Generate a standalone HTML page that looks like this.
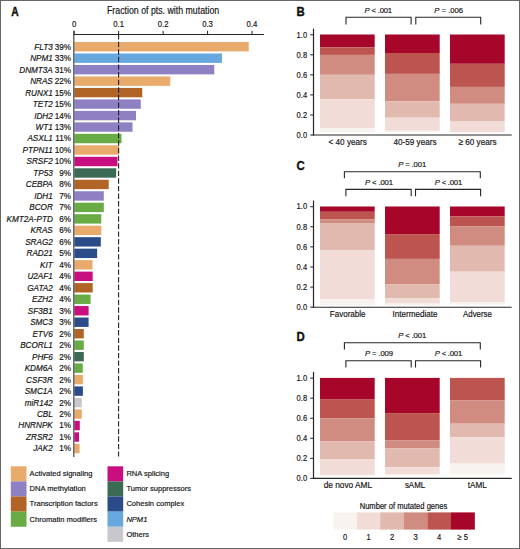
<!DOCTYPE html><html><head><meta charset="utf-8"><style>html,body{margin:0;padding:0;background:#fff;}svg{display:block;}text{font-family:"Liberation Sans",sans-serif;fill:#141414;stroke:#141414;stroke-width:0.18px;}</style></head><body>
<svg width="520" height="549" viewBox="0 0 520 549">
<rect x="0" y="0" width="520" height="549" fill="#fff"/>
<text x="11.30" y="15.80" font-size="12.00" textLength="7.45" lengthAdjust="spacingAndGlyphs" font-weight="bold" style="stroke:#000;stroke-width:0.35px" fill="#000">A</text>
<text x="107.00" y="14.40" font-size="10.60" textLength="112.20" lengthAdjust="spacingAndGlyphs">Fraction of pts. with mutation</text>
<text x="74.20" y="26.60" font-size="9.00" text-anchor="middle" textLength="4.30" lengthAdjust="spacingAndGlyphs">0</text>
<line x1="74.20" y1="30.8" x2="74.20" y2="34.5" stroke="#262626" stroke-width="1"/>
<text x="118.65" y="26.60" font-size="9.00" text-anchor="middle" textLength="10.76" lengthAdjust="spacingAndGlyphs">0.1</text>
<line x1="118.65" y1="30.8" x2="118.65" y2="34.5" stroke="#262626" stroke-width="1"/>
<text x="163.10" y="26.60" font-size="9.00" text-anchor="middle" textLength="10.76" lengthAdjust="spacingAndGlyphs">0.2</text>
<line x1="163.10" y1="30.8" x2="163.10" y2="34.5" stroke="#262626" stroke-width="1"/>
<text x="207.55" y="26.60" font-size="9.00" text-anchor="middle" textLength="10.76" lengthAdjust="spacingAndGlyphs">0.3</text>
<line x1="207.55" y1="30.8" x2="207.55" y2="34.5" stroke="#262626" stroke-width="1"/>
<text x="252.00" y="26.60" font-size="9.00" text-anchor="middle" textLength="10.76" lengthAdjust="spacingAndGlyphs">0.4</text>
<line x1="252.00" y1="30.8" x2="252.00" y2="34.5" stroke="#262626" stroke-width="1"/>
<rect x="74.3" y="42.00" width="174.45" height="9.40" fill="#E9AB6C"/>
<text x="52.80" y="49.65" font-size="8.50" text-anchor="end" textLength="18.44" lengthAdjust="spacingAndGlyphs" font-style="italic">FLT3</text>
<text x="71.00" y="49.65" font-size="8.50" text-anchor="end" textLength="16.33" lengthAdjust="spacingAndGlyphs">39%</text>
<rect x="74.3" y="53.48" width="147.70" height="9.40" fill="#67A9DF"/>
<text x="52.80" y="61.13" font-size="8.50" text-anchor="end" textLength="22.67" lengthAdjust="spacingAndGlyphs" font-style="italic">NPM1</text>
<text x="71.00" y="61.13" font-size="8.50" text-anchor="end" textLength="16.33" lengthAdjust="spacingAndGlyphs">33%</text>
<rect x="74.3" y="64.96" width="139.95" height="9.40" fill="#8F80C3"/>
<text x="52.80" y="72.61" font-size="8.50" text-anchor="end" textLength="33.55" lengthAdjust="spacingAndGlyphs" font-style="italic">DNMT3A</text>
<text x="71.00" y="72.61" font-size="8.50" text-anchor="end" textLength="16.33" lengthAdjust="spacingAndGlyphs">31%</text>
<rect x="74.3" y="76.44" width="95.95" height="9.40" fill="#E9AB6C"/>
<text x="52.80" y="84.09" font-size="8.50" text-anchor="end" textLength="22.67" lengthAdjust="spacingAndGlyphs" font-style="italic">NRAS</text>
<text x="71.00" y="84.09" font-size="8.50" text-anchor="end" textLength="16.33" lengthAdjust="spacingAndGlyphs">22%</text>
<rect x="74.3" y="87.92" width="67.95" height="9.40" fill="#B06527"/>
<text x="52.80" y="95.57" font-size="8.50" text-anchor="end" textLength="27.66" lengthAdjust="spacingAndGlyphs" font-style="italic">RUNX1</text>
<text x="71.00" y="95.57" font-size="8.50" text-anchor="end" textLength="16.33" lengthAdjust="spacingAndGlyphs">15%</text>
<rect x="74.3" y="99.40" width="66.45" height="9.40" fill="#8F80C3"/>
<text x="52.80" y="107.05" font-size="8.50" text-anchor="end" textLength="19.95" lengthAdjust="spacingAndGlyphs" font-style="italic">TET2</text>
<text x="71.00" y="107.05" font-size="8.50" text-anchor="end" textLength="16.33" lengthAdjust="spacingAndGlyphs">15%</text>
<rect x="74.3" y="110.88" width="61.70" height="9.40" fill="#8F80C3"/>
<text x="52.80" y="118.53" font-size="8.50" text-anchor="end" textLength="18.59" lengthAdjust="spacingAndGlyphs" font-style="italic">IDH2</text>
<text x="71.00" y="118.53" font-size="8.50" text-anchor="end" textLength="16.33" lengthAdjust="spacingAndGlyphs">14%</text>
<rect x="74.3" y="122.36" width="58.20" height="9.40" fill="#8F80C3"/>
<text x="52.80" y="130.01" font-size="8.50" text-anchor="end" textLength="17.22" lengthAdjust="spacingAndGlyphs" font-style="italic">WT1</text>
<text x="71.00" y="130.01" font-size="8.50" text-anchor="end" textLength="16.33" lengthAdjust="spacingAndGlyphs">13%</text>
<rect x="74.3" y="133.84" width="47.20" height="9.40" fill="#69AC45"/>
<text x="52.80" y="141.49" font-size="8.50" text-anchor="end" textLength="25.41" lengthAdjust="spacingAndGlyphs" font-style="italic">ASXL1</text>
<text x="71.00" y="141.49" font-size="8.50" text-anchor="end" textLength="15.73" lengthAdjust="spacingAndGlyphs">11%</text>
<rect x="74.3" y="145.32" width="44.90" height="9.40" fill="#E9AB6C"/>
<text x="52.80" y="152.97" font-size="8.50" text-anchor="end" textLength="30.23" lengthAdjust="spacingAndGlyphs" font-style="italic">PTPN11</text>
<text x="71.00" y="152.97" font-size="8.50" text-anchor="end" textLength="16.33" lengthAdjust="spacingAndGlyphs">10%</text>
<rect x="74.3" y="156.80" width="43.20" height="9.40" fill="#C90F7F"/>
<text x="52.80" y="164.45" font-size="8.50" text-anchor="end" textLength="26.30" lengthAdjust="spacingAndGlyphs" font-style="italic">SRSF2</text>
<text x="71.00" y="164.45" font-size="8.50" text-anchor="end" textLength="16.33" lengthAdjust="spacingAndGlyphs">10%</text>
<rect x="74.3" y="168.28" width="41.90" height="9.40" fill="#3B6A55"/>
<text x="52.80" y="175.93" font-size="8.50" text-anchor="end" textLength="19.50" lengthAdjust="spacingAndGlyphs" font-style="italic">TP53</text>
<text x="71.00" y="175.93" font-size="8.50" text-anchor="end" textLength="11.79" lengthAdjust="spacingAndGlyphs">9%</text>
<rect x="74.3" y="179.76" width="34.40" height="9.40" fill="#B06527"/>
<text x="52.80" y="187.41" font-size="8.50" text-anchor="end" textLength="27.06" lengthAdjust="spacingAndGlyphs" font-style="italic">CEBPA</text>
<text x="71.00" y="187.41" font-size="8.50" text-anchor="end" textLength="11.79" lengthAdjust="spacingAndGlyphs">8%</text>
<rect x="74.3" y="191.24" width="29.50" height="9.40" fill="#8F80C3"/>
<text x="52.80" y="198.89" font-size="8.50" text-anchor="end" textLength="18.59" lengthAdjust="spacingAndGlyphs" font-style="italic">IDH1</text>
<text x="71.00" y="198.89" font-size="8.50" text-anchor="end" textLength="11.79" lengthAdjust="spacingAndGlyphs">7%</text>
<rect x="74.3" y="202.72" width="29.50" height="9.40" fill="#69AC45"/>
<text x="52.80" y="210.37" font-size="8.50" text-anchor="end" textLength="23.58" lengthAdjust="spacingAndGlyphs" font-style="italic">BCOR</text>
<text x="71.00" y="210.37" font-size="8.50" text-anchor="end" textLength="11.79" lengthAdjust="spacingAndGlyphs">7%</text>
<rect x="74.3" y="214.20" width="27.00" height="9.40" fill="#69AC45"/>
<text x="52.80" y="221.85" font-size="8.50" text-anchor="end" textLength="46.24" lengthAdjust="spacingAndGlyphs" font-style="italic">KMT2A-PTD</text>
<text x="71.00" y="221.85" font-size="8.50" text-anchor="end" textLength="11.79" lengthAdjust="spacingAndGlyphs">6%</text>
<rect x="74.3" y="225.68" width="27.00" height="9.40" fill="#E9AB6C"/>
<text x="52.80" y="233.33" font-size="8.50" text-anchor="end" textLength="22.22" lengthAdjust="spacingAndGlyphs" font-style="italic">KRAS</text>
<text x="71.00" y="233.33" font-size="8.50" text-anchor="end" textLength="11.79" lengthAdjust="spacingAndGlyphs">6%</text>
<rect x="74.3" y="237.16" width="26.50" height="9.40" fill="#2C4B8A"/>
<text x="52.80" y="244.81" font-size="8.50" text-anchor="end" textLength="27.66" lengthAdjust="spacingAndGlyphs" font-style="italic">SRAG2</text>
<text x="71.00" y="244.81" font-size="8.50" text-anchor="end" textLength="11.79" lengthAdjust="spacingAndGlyphs">6%</text>
<rect x="74.3" y="248.64" width="22.80" height="9.40" fill="#2C4B8A"/>
<text x="52.80" y="256.29" font-size="8.50" text-anchor="end" textLength="26.31" lengthAdjust="spacingAndGlyphs" font-style="italic">RAD21</text>
<text x="71.00" y="256.29" font-size="8.50" text-anchor="end" textLength="11.79" lengthAdjust="spacingAndGlyphs">5%</text>
<rect x="74.3" y="260.12" width="18.20" height="9.40" fill="#E9AB6C"/>
<text x="52.80" y="267.77" font-size="8.50" text-anchor="end" textLength="12.69" lengthAdjust="spacingAndGlyphs" font-style="italic">KIT</text>
<text x="71.00" y="267.77" font-size="8.50" text-anchor="end" textLength="11.79" lengthAdjust="spacingAndGlyphs">4%</text>
<rect x="74.3" y="271.60" width="18.40" height="9.40" fill="#C90F7F"/>
<text x="52.80" y="279.25" font-size="8.50" text-anchor="end" textLength="25.40" lengthAdjust="spacingAndGlyphs" font-style="italic">U2AF1</text>
<text x="71.00" y="279.25" font-size="8.50" text-anchor="end" textLength="11.79" lengthAdjust="spacingAndGlyphs">4%</text>
<rect x="74.3" y="283.08" width="18.40" height="9.40" fill="#B06527"/>
<text x="52.80" y="290.73" font-size="8.50" text-anchor="end" textLength="25.54" lengthAdjust="spacingAndGlyphs" font-style="italic">GATA2</text>
<text x="71.00" y="290.73" font-size="8.50" text-anchor="end" textLength="11.79" lengthAdjust="spacingAndGlyphs">4%</text>
<rect x="74.3" y="294.56" width="16.30" height="9.40" fill="#69AC45"/>
<text x="52.80" y="302.21" font-size="8.50" text-anchor="end" textLength="20.86" lengthAdjust="spacingAndGlyphs" font-style="italic">EZH2</text>
<text x="71.00" y="302.21" font-size="8.50" text-anchor="end" textLength="11.79" lengthAdjust="spacingAndGlyphs">4%</text>
<rect x="74.3" y="306.04" width="14.30" height="9.40" fill="#C90F7F"/>
<text x="52.80" y="313.69" font-size="8.50" text-anchor="end" textLength="24.95" lengthAdjust="spacingAndGlyphs" font-style="italic">SF3B1</text>
<text x="71.00" y="313.69" font-size="8.50" text-anchor="end" textLength="11.79" lengthAdjust="spacingAndGlyphs">3%</text>
<rect x="74.3" y="317.52" width="14.30" height="9.40" fill="#2C4B8A"/>
<text x="52.80" y="325.17" font-size="8.50" text-anchor="end" textLength="22.67" lengthAdjust="spacingAndGlyphs" font-style="italic">SMC3</text>
<text x="71.00" y="325.17" font-size="8.50" text-anchor="end" textLength="11.79" lengthAdjust="spacingAndGlyphs">3%</text>
<rect x="74.3" y="329.00" width="9.50" height="9.40" fill="#B06527"/>
<text x="52.80" y="336.65" font-size="8.50" text-anchor="end" textLength="20.41" lengthAdjust="spacingAndGlyphs" font-style="italic">ETV6</text>
<text x="71.00" y="336.65" font-size="8.50" text-anchor="end" textLength="11.79" lengthAdjust="spacingAndGlyphs">2%</text>
<rect x="74.3" y="340.48" width="9.50" height="9.40" fill="#69AC45"/>
<text x="52.80" y="348.13" font-size="8.50" text-anchor="end" textLength="32.65" lengthAdjust="spacingAndGlyphs" font-style="italic">BCORL1</text>
<text x="71.00" y="348.13" font-size="8.50" text-anchor="end" textLength="11.79" lengthAdjust="spacingAndGlyphs">2%</text>
<rect x="74.3" y="351.96" width="9.50" height="9.40" fill="#3B6A55"/>
<text x="52.80" y="359.61" font-size="8.50" text-anchor="end" textLength="20.86" lengthAdjust="spacingAndGlyphs" font-style="italic">PHF6</text>
<text x="71.00" y="359.61" font-size="8.50" text-anchor="end" textLength="11.79" lengthAdjust="spacingAndGlyphs">2%</text>
<rect x="74.3" y="363.44" width="8.50" height="9.40" fill="#69AC45"/>
<text x="52.80" y="371.09" font-size="8.50" text-anchor="end" textLength="28.12" lengthAdjust="spacingAndGlyphs" font-style="italic">KDM6A</text>
<text x="71.00" y="371.09" font-size="8.50" text-anchor="end" textLength="11.79" lengthAdjust="spacingAndGlyphs">2%</text>
<rect x="74.3" y="374.92" width="8.60" height="9.40" fill="#E9AB6C"/>
<text x="52.80" y="382.57" font-size="8.50" text-anchor="end" textLength="26.75" lengthAdjust="spacingAndGlyphs" font-style="italic">CSF3R</text>
<text x="71.00" y="382.57" font-size="8.50" text-anchor="end" textLength="11.79" lengthAdjust="spacingAndGlyphs">2%</text>
<rect x="74.3" y="386.40" width="8.60" height="9.40" fill="#2C4B8A"/>
<text x="52.80" y="394.05" font-size="8.50" text-anchor="end" textLength="28.12" lengthAdjust="spacingAndGlyphs" font-style="italic">SMC1A</text>
<text x="71.00" y="394.05" font-size="8.50" text-anchor="end" textLength="11.79" lengthAdjust="spacingAndGlyphs">2%</text>
<rect x="74.3" y="397.88" width="7.50" height="9.40" fill="#C8C8CC"/>
<text x="52.80" y="405.53" font-size="8.50" text-anchor="end" textLength="28.12" lengthAdjust="spacingAndGlyphs" font-style="italic">miR142</text>
<text x="71.00" y="405.53" font-size="8.50" text-anchor="end" textLength="11.79" lengthAdjust="spacingAndGlyphs">2%</text>
<rect x="74.3" y="409.36" width="7.50" height="9.40" fill="#E9AB6C"/>
<text x="52.80" y="417.01" font-size="8.50" text-anchor="end" textLength="15.87" lengthAdjust="spacingAndGlyphs" font-style="italic">CBL</text>
<text x="71.00" y="417.01" font-size="8.50" text-anchor="end" textLength="11.79" lengthAdjust="spacingAndGlyphs">2%</text>
<rect x="74.3" y="420.84" width="5.50" height="9.40" fill="#C90F7F"/>
<text x="52.80" y="428.49" font-size="8.50" text-anchor="end" textLength="34.46" lengthAdjust="spacingAndGlyphs" font-style="italic">HNRNPK</text>
<text x="71.00" y="428.49" font-size="8.50" text-anchor="end" textLength="11.79" lengthAdjust="spacingAndGlyphs">1%</text>
<rect x="74.3" y="432.32" width="4.70" height="9.40" fill="#C90F7F"/>
<text x="52.80" y="439.97" font-size="8.50" text-anchor="end" textLength="26.75" lengthAdjust="spacingAndGlyphs" font-style="italic">ZRSR2</text>
<text x="71.00" y="439.97" font-size="8.50" text-anchor="end" textLength="11.79" lengthAdjust="spacingAndGlyphs">1%</text>
<rect x="74.3" y="443.80" width="5.30" height="9.40" fill="#E9AB6C"/>
<text x="52.80" y="451.45" font-size="8.50" text-anchor="end" textLength="19.50" lengthAdjust="spacingAndGlyphs" font-style="italic">JAK2</text>
<text x="71.00" y="451.45" font-size="8.50" text-anchor="end" textLength="11.79" lengthAdjust="spacingAndGlyphs">1%</text>
<line x1="118.6" y1="34.1" x2="118.6" y2="456.5" stroke="#1a1a1a" stroke-width="1.05" stroke-dasharray="5.4 2.19"/>
<line x1="73.4" y1="34.5" x2="264" y2="34.5" stroke="#262626" stroke-width="1.1"/>
<line x1="73.8" y1="30.8" x2="73.8" y2="457" stroke="#444" stroke-width="1.2"/>
<rect x="10.8" y="466.30" width="15.7" height="15.15" fill="#E9AB6C"/>
<text x="29.60" y="476.00" font-size="7.90" textLength="62.91" lengthAdjust="spacingAndGlyphs">Activated signaling</text>
<rect x="10.8" y="481.40" width="15.7" height="15.15" fill="#8F80C3"/>
<text x="29.60" y="491.20" font-size="7.90" textLength="56.19" lengthAdjust="spacingAndGlyphs">DNA methylation</text>
<rect x="10.8" y="496.50" width="15.7" height="15.15" fill="#B06527"/>
<text x="29.60" y="506.40" font-size="7.90" textLength="68.06" lengthAdjust="spacingAndGlyphs">Transcription factors</text>
<rect x="10.8" y="511.60" width="15.7" height="15.15" fill="#69AC45"/>
<text x="29.60" y="521.60" font-size="7.90" textLength="67.51" lengthAdjust="spacingAndGlyphs">Chromatin modifiers</text>
<rect x="107.5" y="466.30" width="15.7" height="15.15" fill="#C90F7F"/>
<text x="126.40" y="476.00" font-size="7.90" textLength="42.77" lengthAdjust="spacingAndGlyphs">RNA splicing</text>
<rect x="107.5" y="481.40" width="15.7" height="15.15" fill="#3B6A55"/>
<text x="126.40" y="491.20" font-size="7.90" textLength="64.71" lengthAdjust="spacingAndGlyphs">Tumor suppressors</text>
<rect x="107.5" y="496.50" width="15.7" height="15.15" fill="#2C4B8A"/>
<text x="126.40" y="506.40" font-size="7.90" textLength="57.87" lengthAdjust="spacingAndGlyphs">Cohesin complex</text>
<rect x="107.5" y="511.60" width="15.7" height="15.15" fill="#67A9DF"/>
<text x="126.40" y="521.60" font-size="7.90" textLength="20.96" lengthAdjust="spacingAndGlyphs" font-style="italic">NPM1</text>
<rect x="107.5" y="526.70" width="15.7" height="15.15" fill="#C8C8CC"/>
<text x="126.40" y="536.80" font-size="7.90" textLength="22.64" lengthAdjust="spacingAndGlyphs">Others</text>
<text x="296.50" y="15.60" font-size="12.40" textLength="8.24" lengthAdjust="spacingAndGlyphs" font-weight="bold" style="stroke:#000;stroke-width:0.35px" fill="#000">B</text>
<rect x="320.00" y="34.50" width="54.7" height="12.80" fill="#A6062A"/>
<rect x="320.00" y="47.30" width="54.7" height="7.60" fill="#BC5550"/>
<rect x="320.00" y="54.90" width="54.7" height="19.90" fill="#D18C82"/>
<rect x="320.00" y="74.80" width="54.7" height="24.40" fill="#E2B9AF"/>
<rect x="320.00" y="99.20" width="54.7" height="28.90" fill="#F1DCD8"/>
<rect x="320.00" y="128.10" width="54.7" height="4.00" fill="#F9F3F0"/>
<rect x="385.00" y="34.50" width="54.7" height="18.50" fill="#A6062A"/>
<rect x="385.00" y="53.00" width="54.7" height="20.90" fill="#BC5550"/>
<rect x="385.00" y="73.90" width="54.7" height="27.40" fill="#D18C82"/>
<rect x="385.00" y="101.30" width="54.7" height="16.40" fill="#E2B9AF"/>
<rect x="385.00" y="117.70" width="54.7" height="13.10" fill="#F1DCD8"/>
<rect x="385.00" y="130.80" width="54.7" height="1.20" fill="#F9F3F0"/>
<rect x="450.00" y="34.50" width="54.7" height="29.30" fill="#A6062A"/>
<rect x="450.00" y="63.80" width="54.7" height="23.10" fill="#BC5550"/>
<rect x="450.00" y="86.90" width="54.7" height="16.90" fill="#D18C82"/>
<rect x="450.00" y="103.80" width="54.7" height="17.20" fill="#E2B9AF"/>
<rect x="450.00" y="121.00" width="54.7" height="11.00" fill="#F1DCD8"/>
<rect x="450.00" y="132.00" width="54.7" height="0.70" fill="#F9F3F0"/>
<line x1="313.5" y1="28.60" x2="313.5" y2="135.50" stroke="#262626" stroke-width="1.2"/>
<line x1="312.9" y1="135.00" x2="511.7" y2="135.00" stroke="#262626" stroke-width="1.1"/>
<line x1="310.2" y1="135.00" x2="313.5" y2="135.00" stroke="#262626" stroke-width="1"/>
<text x="307.10" y="137.70" font-size="9.20" text-anchor="end" textLength="10.49" lengthAdjust="spacingAndGlyphs">0.0</text>
<line x1="310.2" y1="114.96" x2="313.5" y2="114.96" stroke="#262626" stroke-width="1"/>
<text x="307.10" y="117.66" font-size="9.20" text-anchor="end" textLength="10.49" lengthAdjust="spacingAndGlyphs">0.2</text>
<line x1="310.2" y1="94.92" x2="313.5" y2="94.92" stroke="#262626" stroke-width="1"/>
<text x="307.10" y="97.62" font-size="9.20" text-anchor="end" textLength="10.49" lengthAdjust="spacingAndGlyphs">0.4</text>
<line x1="310.2" y1="74.88" x2="313.5" y2="74.88" stroke="#262626" stroke-width="1"/>
<text x="307.10" y="77.58" font-size="9.20" text-anchor="end" textLength="10.49" lengthAdjust="spacingAndGlyphs">0.6</text>
<line x1="310.2" y1="54.84" x2="313.5" y2="54.84" stroke="#262626" stroke-width="1"/>
<text x="307.10" y="57.54" font-size="9.20" text-anchor="end" textLength="10.49" lengthAdjust="spacingAndGlyphs">0.8</text>
<line x1="310.2" y1="34.80" x2="313.5" y2="34.80" stroke="#262626" stroke-width="1"/>
<text x="307.10" y="37.50" font-size="9.20" text-anchor="end" textLength="10.49" lengthAdjust="spacingAndGlyphs">1.0</text>
<text x="328.60" y="145.20" font-size="9.4" textLength="38.20" lengthAdjust="spacingAndGlyphs">&lt; 40 years</text>
<text x="393.45" y="145.20" font-size="9.4" textLength="43.10" lengthAdjust="spacingAndGlyphs">40-59 years</text>
<text x="458.45" y="145.20" font-size="9.4" textLength="38.10" lengthAdjust="spacingAndGlyphs">≥ 60 years</text>
<path d="M346.00 24.60 V17.30 H411.10 V24.60" fill="none" stroke="#262626" stroke-width="1.1"/>
<path d="M415.80 24.60 V17.30 H480.70 V24.60" fill="none" stroke="#262626" stroke-width="1.1"/>
<text x="364.60" y="12.80" font-size="7.7" textLength="27.50" lengthAdjust="spacing"><tspan font-style="italic">P</tspan> &lt; .001</text>
<text x="434.30" y="12.80" font-size="7.7" textLength="28.80" lengthAdjust="spacing"><tspan font-style="italic">P</tspan> = .006</text>
<text x="296.50" y="170.20" font-size="12.40" textLength="8.24" lengthAdjust="spacingAndGlyphs" font-weight="bold" style="stroke:#000;stroke-width:0.35px" fill="#000">C</text>
<rect x="320.00" y="206.50" width="54.7" height="5.30" fill="#A6062A"/>
<rect x="320.00" y="211.80" width="54.7" height="7.40" fill="#BC5550"/>
<rect x="320.00" y="219.20" width="54.7" height="4.40" fill="#D18C82"/>
<rect x="320.00" y="223.60" width="54.7" height="26.60" fill="#E2B9AF"/>
<rect x="320.00" y="250.20" width="54.7" height="49.30" fill="#F1DCD8"/>
<rect x="320.00" y="299.50" width="54.7" height="5.80" fill="#F9F3F0"/>
<rect x="385.00" y="206.50" width="54.7" height="27.60" fill="#A6062A"/>
<rect x="385.00" y="234.10" width="54.7" height="24.80" fill="#BC5550"/>
<rect x="385.00" y="258.90" width="54.7" height="25.30" fill="#D18C82"/>
<rect x="385.00" y="284.20" width="54.7" height="13.90" fill="#E2B9AF"/>
<rect x="385.00" y="298.10" width="54.7" height="5.50" fill="#F1DCD8"/>
<rect x="385.00" y="303.60" width="54.7" height="2.00" fill="#F9F3F0"/>
<rect x="450.00" y="206.50" width="54.7" height="9.80" fill="#A6062A"/>
<rect x="450.00" y="216.30" width="54.7" height="9.80" fill="#BC5550"/>
<rect x="450.00" y="226.10" width="54.7" height="19.70" fill="#D18C82"/>
<rect x="450.00" y="245.80" width="54.7" height="25.90" fill="#E2B9AF"/>
<rect x="450.00" y="271.70" width="54.7" height="30.70" fill="#F1DCD8"/>
<rect x="450.00" y="302.40" width="54.7" height="2.20" fill="#F9F3F0"/>
<line x1="313.5" y1="200.50" x2="313.5" y2="307.70" stroke="#262626" stroke-width="1.2"/>
<line x1="312.9" y1="307.20" x2="511.7" y2="307.20" stroke="#262626" stroke-width="1.1"/>
<line x1="310.2" y1="307.20" x2="313.5" y2="307.20" stroke="#262626" stroke-width="1"/>
<text x="307.10" y="309.90" font-size="9.20" text-anchor="end" textLength="10.49" lengthAdjust="spacingAndGlyphs">0.0</text>
<line x1="310.2" y1="287.10" x2="313.5" y2="287.10" stroke="#262626" stroke-width="1"/>
<text x="307.10" y="289.80" font-size="9.20" text-anchor="end" textLength="10.49" lengthAdjust="spacingAndGlyphs">0.2</text>
<line x1="310.2" y1="267.00" x2="313.5" y2="267.00" stroke="#262626" stroke-width="1"/>
<text x="307.10" y="269.70" font-size="9.20" text-anchor="end" textLength="10.49" lengthAdjust="spacingAndGlyphs">0.4</text>
<line x1="310.2" y1="246.90" x2="313.5" y2="246.90" stroke="#262626" stroke-width="1"/>
<text x="307.10" y="249.60" font-size="9.20" text-anchor="end" textLength="10.49" lengthAdjust="spacingAndGlyphs">0.6</text>
<line x1="310.2" y1="226.80" x2="313.5" y2="226.80" stroke="#262626" stroke-width="1"/>
<text x="307.10" y="229.50" font-size="9.20" text-anchor="end" textLength="10.49" lengthAdjust="spacingAndGlyphs">0.8</text>
<line x1="310.2" y1="206.70" x2="313.5" y2="206.70" stroke="#262626" stroke-width="1"/>
<text x="307.10" y="209.40" font-size="9.20" text-anchor="end" textLength="10.49" lengthAdjust="spacingAndGlyphs">1.0</text>
<text x="329.80" y="317.00" font-size="9.4" textLength="35.70" lengthAdjust="spacingAndGlyphs">Favorable</text>
<text x="392.50" y="317.00" font-size="9.4" textLength="45.10" lengthAdjust="spacingAndGlyphs">Intermediate</text>
<text x="463.10" y="317.00" font-size="9.4" textLength="28.80" lengthAdjust="spacingAndGlyphs">Adverse</text>
<path d="M344.40 178.20 V171.70 H480.30 V178.20" fill="none" stroke="#262626" stroke-width="1.1"/>
<path d="M345.90 196.20 V189.40 H411.20 V196.20" fill="none" stroke="#262626" stroke-width="1.1"/>
<path d="M415.50 196.20 V189.40 H480.60 V196.20" fill="none" stroke="#262626" stroke-width="1.1"/>
<text x="398.20" y="167.00" font-size="7.7" textLength="28.00" lengthAdjust="spacing"><tspan font-style="italic">P</tspan> = .001</text>
<text x="365.10" y="184.50" font-size="7.7" textLength="27.90" lengthAdjust="spacing"><tspan font-style="italic">P</tspan> &lt; .001</text>
<text x="434.80" y="184.50" font-size="7.7" textLength="27.40" lengthAdjust="spacing"><tspan font-style="italic">P</tspan> &lt; .001</text>
<text x="296.50" y="341.00" font-size="12.40" textLength="8.24" lengthAdjust="spacingAndGlyphs" font-weight="bold" style="stroke:#000;stroke-width:0.35px" fill="#000">D</text>
<rect x="320.00" y="377.90" width="54.7" height="21.20" fill="#A6062A"/>
<rect x="320.00" y="399.10" width="54.7" height="19.10" fill="#BC5550"/>
<rect x="320.00" y="418.20" width="54.7" height="23.10" fill="#D18C82"/>
<rect x="320.00" y="441.30" width="54.7" height="17.70" fill="#E2B9AF"/>
<rect x="320.00" y="459.00" width="54.7" height="15.90" fill="#F1DCD8"/>
<rect x="320.00" y="474.90" width="54.7" height="1.00" fill="#F9F3F0"/>
<rect x="385.00" y="377.90" width="54.7" height="35.20" fill="#A6062A"/>
<rect x="385.00" y="413.10" width="54.7" height="27.40" fill="#BC5550"/>
<rect x="385.00" y="440.50" width="54.7" height="7.90" fill="#D18C82"/>
<rect x="385.00" y="448.40" width="54.7" height="18.80" fill="#E2B9AF"/>
<rect x="385.00" y="467.20" width="54.7" height="6.80" fill="#F1DCD8"/>
<rect x="385.00" y="474.00" width="54.7" height="1.60" fill="#F9F3F0"/>
<rect x="450.00" y="377.90" width="54.7" height="22.60" fill="#BC5550"/>
<rect x="450.00" y="400.50" width="54.7" height="23.20" fill="#D18C82"/>
<rect x="450.00" y="423.70" width="54.7" height="13.60" fill="#E2B9AF"/>
<rect x="450.00" y="437.30" width="54.7" height="26.30" fill="#F1DCD8"/>
<rect x="450.00" y="463.60" width="54.7" height="10.70" fill="#F9F3F0"/>
<line x1="313.5" y1="371.90" x2="313.5" y2="478.85" stroke="#262626" stroke-width="1.2"/>
<line x1="312.9" y1="478.35" x2="511.7" y2="478.35" stroke="#262626" stroke-width="1.1"/>
<line x1="310.2" y1="478.35" x2="313.5" y2="478.35" stroke="#262626" stroke-width="1"/>
<text x="307.10" y="481.05" font-size="9.20" text-anchor="end" textLength="10.49" lengthAdjust="spacingAndGlyphs">0.0</text>
<line x1="310.2" y1="458.30" x2="313.5" y2="458.30" stroke="#262626" stroke-width="1"/>
<text x="307.10" y="461.00" font-size="9.20" text-anchor="end" textLength="10.49" lengthAdjust="spacingAndGlyphs">0.2</text>
<line x1="310.2" y1="438.25" x2="313.5" y2="438.25" stroke="#262626" stroke-width="1"/>
<text x="307.10" y="440.95" font-size="9.20" text-anchor="end" textLength="10.49" lengthAdjust="spacingAndGlyphs">0.4</text>
<line x1="310.2" y1="418.20" x2="313.5" y2="418.20" stroke="#262626" stroke-width="1"/>
<text x="307.10" y="420.90" font-size="9.20" text-anchor="end" textLength="10.49" lengthAdjust="spacingAndGlyphs">0.6</text>
<line x1="310.2" y1="398.15" x2="313.5" y2="398.15" stroke="#262626" stroke-width="1"/>
<text x="307.10" y="400.85" font-size="9.20" text-anchor="end" textLength="10.49" lengthAdjust="spacingAndGlyphs">0.8</text>
<line x1="310.2" y1="378.10" x2="313.5" y2="378.10" stroke="#262626" stroke-width="1"/>
<text x="307.10" y="380.80" font-size="9.20" text-anchor="end" textLength="10.49" lengthAdjust="spacingAndGlyphs">1.0</text>
<text x="323.70" y="487.90" font-size="9.4" textLength="48.40" lengthAdjust="spacingAndGlyphs">de novo AML</text>
<text x="404.90" y="487.90" font-size="9.4" textLength="20.30" lengthAdjust="spacingAndGlyphs">sAML</text>
<text x="467.80" y="487.90" font-size="9.4" textLength="19.00" lengthAdjust="spacingAndGlyphs">tAML</text>
<path d="M344.40 349.50 V342.70 H480.30 V349.50" fill="none" stroke="#262626" stroke-width="1.1"/>
<path d="M345.90 367.40 V360.70 H411.20 V367.40" fill="none" stroke="#262626" stroke-width="1.1"/>
<path d="M415.50 367.40 V360.70 H480.60 V367.40" fill="none" stroke="#262626" stroke-width="1.1"/>
<text x="398.20" y="337.90" font-size="7.7" textLength="28.00" lengthAdjust="spacing"><tspan font-style="italic">P</tspan> &lt; .001</text>
<text x="365.10" y="355.90" font-size="7.7" textLength="27.90" lengthAdjust="spacing"><tspan font-style="italic">P</tspan> = .009</text>
<text x="434.80" y="355.90" font-size="7.7" textLength="27.40" lengthAdjust="spacing"><tspan font-style="italic">P</tspan> &lt; .001</text>
<text x="359.7" y="508.6" font-size="8.4" textLength="87.6" lengthAdjust="spacingAndGlyphs">Number of mutated genes</text>
<rect x="333.40" y="512.4" width="23.45" height="17.2" fill="#F9F3F0"/>
<text x="345.10" y="540.10" font-size="8.60" text-anchor="middle" textLength="4.21" lengthAdjust="spacingAndGlyphs">0</text>
<rect x="356.80" y="512.4" width="23.45" height="17.2" fill="#F1DCD8"/>
<text x="368.50" y="540.10" font-size="8.60" text-anchor="middle" textLength="4.21" lengthAdjust="spacingAndGlyphs">1</text>
<rect x="380.20" y="512.4" width="23.65" height="17.2" fill="#E2B9AF"/>
<text x="392.00" y="540.10" font-size="8.60" text-anchor="middle" textLength="4.21" lengthAdjust="spacingAndGlyphs">2</text>
<rect x="403.80" y="512.4" width="23.65" height="17.2" fill="#D18C82"/>
<text x="415.60" y="540.10" font-size="8.60" text-anchor="middle" textLength="4.21" lengthAdjust="spacingAndGlyphs">3</text>
<rect x="427.40" y="512.4" width="23.55" height="17.2" fill="#BC5550"/>
<text x="439.15" y="540.10" font-size="8.60" text-anchor="middle" textLength="4.21" lengthAdjust="spacingAndGlyphs">4</text>
<rect x="450.90" y="512.4" width="23.95" height="17.2" fill="#A6062A"/>
<text x="462.85" y="540.10" font-size="8.60" text-anchor="middle" textLength="10.47" lengthAdjust="spacingAndGlyphs">≥ 5</text>
<rect x="0.5" y="0.5" width="519" height="548" fill="none" stroke="#666" stroke-width="1"/>
</svg></body></html>
